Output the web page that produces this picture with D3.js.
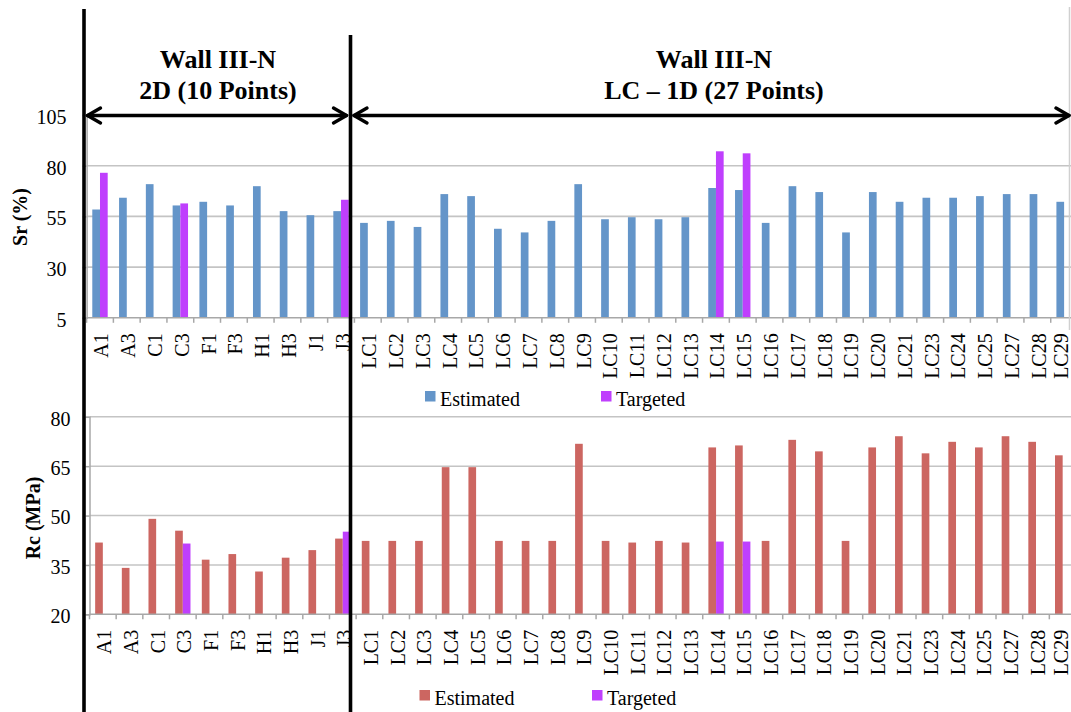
<!DOCTYPE html>
<html>
<head>
<meta charset="utf-8">
<script src="https://cdn.jsdelivr.net/npm/d3@7/dist/d3.min.js"></script>
<style>
  html, body { margin: 0; padding: 0; background: #fff; }
  svg { display: block; }
  svg text { font-family: "Liberation Serif", "DejaVu Serif", serif !important; fill: #000; }
</style>
</head>
<body>
<svg id="chart" width="1071" height="712" font-family="Liberation Serif, DejaVu Serif, serif"></svg>
<script>
const categories = ["A1","A3","C1","C3","F1","F3","H1","H3","J1","J3",
  "LC1","LC2","LC3","LC4","LC5","LC6","LC7","LC8","LC9","LC10","LC11","LC12","LC13",
  "LC14","LC15","LC16","LC17","LC18","LC19","LC20","LC21","LC23","LC24","LC25","LC27","LC28","LC29"];

const srEstimated = [58.4, 64.2, 70.9, 60.4, 62.2, 60.4, 69.9, 57.6, 55.6, 57.6,
  51.8, 52.8, 49.8, 66.0, 65.0, 48.9, 47.1, 52.8, 70.9, 53.6, 54.6, 53.6, 54.6,
  69.0, 68.0, 51.8, 69.9, 67.0, 47.1, 67.0, 62.2, 64.2, 64.2, 65.0, 66.0, 66.0, 62.2];
const srTargeted = [76.5, null, null, 61.4, null, null, null, null, null, 63.2,
  null, null, null, null, null, null, null, null, null, null, null, null, null,
  87.1, 86.1, null, null, null, null, null, null, null, null, null, null, null, null];

const rcEstimated = [41.8, 34.1, 49.0, 45.4, 36.6, 38.3, 33.0, 37.2, 39.5, 43.0,
  42.3, 42.3, 42.3, 64.7, 64.7, 42.3, 42.3, 42.3, 71.8, 42.3, 41.8, 42.3, 41.8,
  70.7, 71.3, 42.3, 73.0, 69.5, 42.3, 70.7, 74.1, 68.9, 72.4, 70.7, 74.1, 72.4, 68.3];
const rcTargeted = [null, null, null, 41.5, null, null, null, null, null, 45.1,
  null, null, null, null, null, null, null, null, null, null, null, null, null,
  42.1, 42.1, null, null, null, null, null, null, null, null, null, null, null, null];

const srTicks = [5, 30, 55, 80, 105];
const rcTicks = [20, 35, 50, 65, 80];
const seriesNames = ["Estimated", "Targeted"];
const groupTitles = [["Wall III-N", "2D (10 Points)"], ["Wall III-N", "LC \u2013 1D (27 Points)"]];

const FONT = "Liberation Serif, DejaVu Serif, serif";
const svg = d3.select("#chart");
const W = 1071;
const pad = 0.425;

function drawPanel(cfg) {
  const x = d3.scaleBand().domain(categories).range([cfg.x0, cfg.x1])
    .paddingInner(pad).paddingOuter(pad / 2);
  const xs = d3.scaleBand().domain(seriesNames).range([0, x.bandwidth()]);
  const y = d3.scaleLinear().domain(cfg.domain).range([cfg.yb, cfg.yt]);
  const g = svg.append("g");

  // gridlines
  g.selectAll("line.grid").data(cfg.ticks.slice(1)).join("line")
    .attr("x1", cfg.x0).attr("x2", W).attr("y1", d => y(d)).attr("y2", d => y(d))
    .attr("stroke", "#c4c4c4").attr("stroke-width", 1.6);

  // y axis
  const ya = g.append("g").attr("transform", `translate(${cfg.x0},0)`)
    .call(d3.axisLeft(y).tickValues(cfg.ticks).tickSize(4).tickPadding(cfg.labPad));
  ya.attr("font-family", FONT);
  ya.select(".domain").attr("stroke", "#a8a8a8").attr("stroke-width", 1.5);
  ya.selectAll(".tick line").attr("stroke", "#a8a8a8").attr("stroke-width", 1.5);
  ya.selectAll(".tick text").attr("font-size", 20)
    .attr("font-family", FONT).attr("dy", "0.42em");

  // bars
  const rows = categories.map((c, i) => ({c, v: [cfg.est[i], cfg.tgt[i]]}));
  const grp = g.selectAll("g.cat").data(rows).join("g")
    .attr("transform", d => `translate(${x(d.c)},0)`);
  grp.selectAll("rect").data(d => seriesNames.map((s, k) => ({s, v: d.v[k]})).filter(e => e.v != null))
    .join("rect")
    .attr("x", e => xs(e.s)).attr("width", xs.bandwidth())
    .attr("y", e => y(e.v)).attr("height", e => y(cfg.domain[0]) - y(e.v))
    .attr("fill", e => e.s === "Estimated" ? cfg.estColor : "#bf3ffd");

  // x axis line and boundary ticks
  const step = x.step();
  g.append("line").attr("x1", cfg.x0).attr("x2", W).attr("y1", cfg.yb).attr("y2", cfg.yb)
    .attr("stroke", "#a8a8a8").attr("stroke-width", 1.6);
  g.selectAll("line.bt").data(categories).join("line")
    .attr("x1", d => x(d) - step * pad / 2).attr("x2", d => x(d) - step * pad / 2)
    .attr("y1", cfg.yb).attr("y2", cfg.yb + 5)
    .attr("stroke", "#a8a8a8").attr("stroke-width", 1.5);

  // category labels
  g.selectAll("text.cl").data(categories).join("text")
    .attr("transform", d => `translate(${Math.min(x(d) + x.bandwidth() / 2 + 1.5, 1061)},${cfg.yb + 15.5}) rotate(-90)`)
    .attr("text-anchor", "end").attr("dy", "0.35em").attr("font-size", 20)
    .attr("font-family", FONT)
    .text(d => d);

  // y title
  svg.append("text")
    .attr("transform", `translate(${cfg.titleX},${cfg.titleY}) rotate(-90)`)
    .attr("text-anchor", "middle").attr("dy", "0.35em").attr("font-family", FONT)
    .attr("font-size", 20).attr("font-weight", "bold").text(cfg.title);

  // legend
  const lg = svg.append("g");
  cfg.legend.forEach((p, k) => {
    lg.append("rect").attr("x", p[0]).attr("y", p[1] - 15).attr("width", 10.5).attr("height", 10.5)
      .attr("fill", k === 0 ? cfg.estColor : "#bf3ffd");
    lg.append("text").attr("x", p[0] + 15).attr("y", p[1]).attr("font-size", 20)
      .attr("font-family", FONT).text(seriesNames[k]);
  });
  return x;
}

drawPanel({
  x0: 86.6, x1: 1077.5, yb: 317.8, yt: 115, domain: [5, 105], ticks: srTicks, labPad: 16,
  est: srEstimated, tgt: srTargeted, estColor: "#6495c9",
  title: "Sr (%)", titleX: 20, titleY: 217,
  legend: [[425, 406], [601, 406]]
});
drawPanel({
  x0: 89.5, x1: 1076, yb: 614.3, yt: 416.8, domain: [20, 80], ticks: rcTicks, labPad: 15,
  est: rcEstimated, tgt: rcTargeted, estColor: "#cc6661",
  title: "Rc (MPa)", titleX: 33, titleY: 518,
  legend: [[419.5, 705], [592, 705]]
});

// right frame line
svg.append("line").attr("x1", 1069.5).attr("x2", 1069.5).attr("y1", 7).attr("y2", 330)
  .attr("stroke", "#d0d0d0").attr("stroke-width", 1.5);

// section separators
svg.append("line").attr("x1", 84).attr("x2", 84).attr("y1", 9).attr("y2", 712)
  .attr("stroke", "#000").attr("stroke-width", 3.6);
svg.append("line").attr("x1", 350.5).attr("x2", 350.5).attr("y1", 35).attr("y2", 712)
  .attr("stroke", "#000").attr("stroke-width", 3.6);

// arrows
function arrow(xa, xb, yy) {
  const a = svg.append("g").attr("fill", "none").attr("stroke", "#000")
    .attr("stroke-width", 3.4).attr("stroke-linecap", "round").attr("stroke-linejoin", "round");
  a.append("line").attr("x1", xa).attr("x2", xb).attr("y1", yy).attr("y2", yy);
  a.append("path").attr("d", `M${xa + 13},${yy - 7.5} L${xa},${yy} L${xa + 13},${yy + 7.5}`);
  a.append("path").attr("d", `M${xb - 13},${yy - 7.5} L${xb},${yy} L${xb - 13},${yy + 7.5}`);
}
arrow(87.5, 346.5, 115.5);
arrow(354, 1069, 115.5);

// group titles
[[218, groupTitles[0]], [714, groupTitles[1]]].forEach(([cx, lines]) => {
  lines.forEach((t, i) => {
    svg.append("text").attr("x", cx).attr("y", 68 + i * 30.5).attr("text-anchor", "middle")
      .attr("font-family", FONT)
      .attr("font-size", 26).attr("font-weight", "bold").text(t);
  });
});
</script>
</body>
</html>
